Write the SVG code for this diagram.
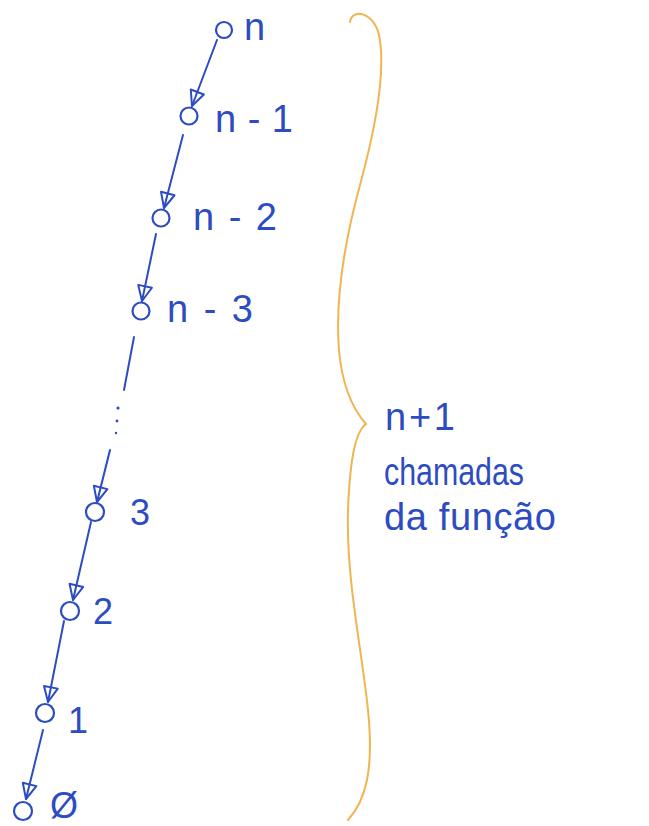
<svg xmlns="http://www.w3.org/2000/svg" width="649" height="826" viewBox="0 0 649 826">
<style>
.nd{fill:none;stroke:#2d4cc2;stroke-width:2.2}
.lb{fill:#2d4cc2;font-family:"Liberation Sans","DejaVu Sans",sans-serif;font-size:38px}
.num{fill:#2d4cc2;font-family:"Liberation Sans","DejaVu Sans",sans-serif;font-size:36px}
.rt{fill:#2d4cc2;font-family:"Liberation Sans","DejaVu Sans",sans-serif;font-size:38px}
.ed{fill:none;stroke:#2d4cc2;stroke-width:2;stroke-linecap:round}
</style>
<defs>
<marker id="ah" viewBox="0 0 18 18" refX="17" refY="9" markerWidth="18" markerHeight="18" orient="auto" markerUnits="userSpaceOnUse">
<path d="M2,2 L17,9 L2,16 Z" fill="none" stroke="#2d4cc2" stroke-width="2" stroke-linejoin="round"/>
</marker>
</defs>
<rect width="649" height="826" fill="#ffffff"/>
<g id="connectors">
<line class="ed" x1="217" y1="40" x2="192" y2="106" marker-end="url(#ah)"/>
<line class="ed" x1="183" y1="135" x2="164" y2="208" marker-end="url(#ah)"/>
<line class="ed" x1="156" y1="234" x2="142" y2="301" marker-end="url(#ah)"/>
<line class="ed" x1="134" y1="337" x2="124" y2="390"/>
<circle cx="118" cy="408" r="1.6" fill="#2d4cc2"/>
<circle cx="117" cy="421" r="1.4" fill="#2d4cc2"/>
<circle cx="116" cy="433" r="1.2" fill="#2d4cc2"/>
<line class="ed" x1="110" y1="450" x2="97" y2="502" marker-end="url(#ah)"/>
<line class="ed" x1="91" y1="522" x2="73" y2="600" marker-end="url(#ah)"/>
<line class="ed" x1="64" y1="621" x2="48" y2="702" marker-end="url(#ah)"/>
<line class="ed" x1="43" y1="730" x2="26" y2="799" marker-end="url(#ah)"/>
</g>
<g id="node-n"><circle class="nd" cx="224" cy="30" r="8"/><text class="lb" x="244" y="40">n</text></g>
<g id="node-n1"><circle class="nd" cx="189" cy="116" r="8.5"/><text class="lb" x="215" y="132" textLength="78" lengthAdjust="spacing">n-1</text></g>
<g id="node-n2"><circle class="nd" cx="161" cy="218" r="8.5"/><text class="lb" x="193" y="230" textLength="84" lengthAdjust="spacing">n-2</text></g>
<g id="node-n3"><circle class="nd" cx="141" cy="311" r="8.5"/><text class="lb" x="167" y="322" textLength="86" lengthAdjust="spacing">n-3</text></g>
<g id="node-3"><circle class="nd" cx="95" cy="512" r="9"/><text class="num" x="130" y="525">3</text></g>
<g id="node-2"><circle class="nd" cx="70" cy="611" r="9"/><text class="num" x="93" y="624">2</text></g>
<g id="node-1"><circle class="nd" cx="45" cy="713" r="9"/><text class="num" x="68" y="733">1</text></g>
<g id="node-0"><circle class="nd" cx="23" cy="811" r="9"/><text class="num" x="50" y="818" font-size="32">Ø</text></g>
<g id="brace">
<path d="M350,22 C352,8 374,12 379,35 C386,70 375,130 360,185 C345,240 335,300 339,350 C342,385 352,408 366,424 C355,432 350,460 348,510 C346,580 362,650 368,710 C374,770 366,800 348,820" fill="none" stroke="#f0b552" stroke-width="2" stroke-linecap="round"/>
</g>
<g id="label-right">
<text class="rt" x="385" y="430" textLength="70" lengthAdjust="spacing">n+1</text>
<text class="rt" x="384" y="485" textLength="140" lengthAdjust="spacingAndGlyphs">chamadas</text>
<text class="rt" x="384" y="530" textLength="172" lengthAdjust="spacing">da função</text>
</g>
</svg>
